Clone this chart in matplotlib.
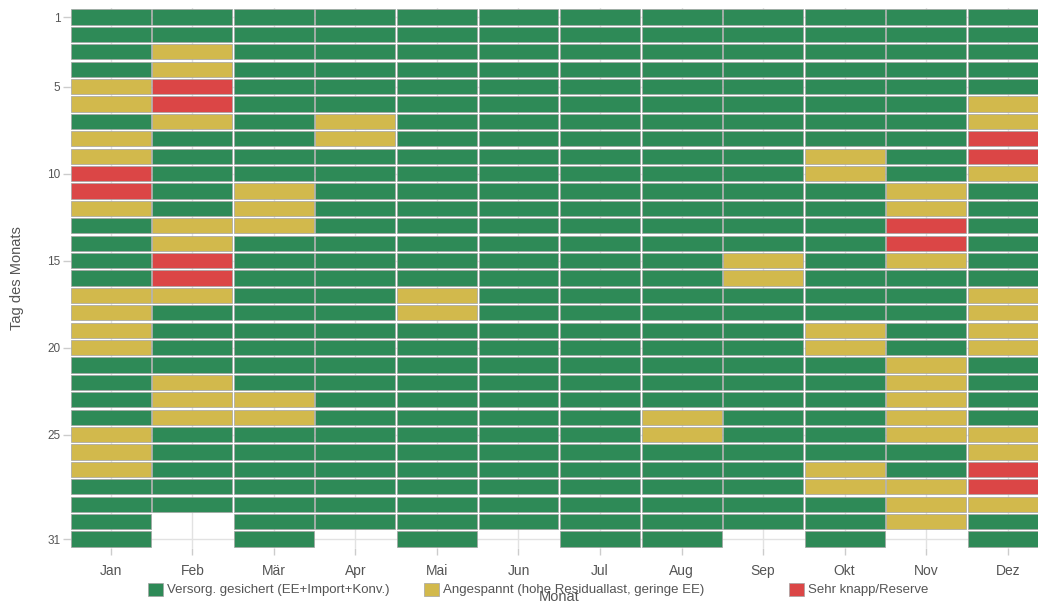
import matplotlib
matplotlib.use("Agg")
import matplotlib.pyplot as plt
from matplotlib.patches import Patch

plt.rcParams['font.family'] = ['Liberation Sans', 'DejaVu Sans']

# Monate und Tage je Monat (2024, Schaltjahr)
monate = ['Jan', 'Feb', 'Mär', 'Apr', 'Mai', 'Jun', 'Jul', 'Aug', 'Sep', 'Okt', 'Nov', 'Dez']
tage_pro_monat = [31, 29, 31, 30, 31, 30, 31, 31, 30, 31, 30, 31]

# Tage mit "Angespannt" (gelb) je Monat
gelb_tage = [
    [5, 6, 8, 9, 12, 17, 18, 19, 20, 25, 26, 27],
    [3, 4, 7, 13, 14, 17, 22, 23, 24],
    [11, 12, 13, 23, 24],
    [7, 8],
    [17, 18],
    [],
    [],
    [24, 25],
    [15, 16],
    [9, 10, 19, 20, 27, 28],
    [11, 12, 15, 21, 22, 23, 24, 25, 28, 29, 30],
    [6, 7, 10, 17, 18, 19, 20, 25, 26, 29],
]
# Tage mit "Sehr knapp/Reserve" (rot) je Monat
rot_tage = [
    [10, 11],
    [5, 6, 15, 16],
    [], [], [], [], [], [], [], [],
    [13, 14],
    [8, 9, 27, 28],
]

kategorien = ['Versorg. gesichert (EE+Import+Konv.)',
              'Angespannt (hohe Residuallast, geringe EE)',
              'Sehr knapp/Reserve']
farben = ['#2e8a57', '#d2b94c', '#db4646']

fig = plt.figure(figsize=(10.38, 6.03), dpi=100)
ax = fig.add_axes([70 / 1038, 55.3 / 603, 978.5 / 1038, 539.4 / 603])

# Zellen nach Kategorie sammeln
xs = [[], [], []]
ys = [[], [], []]
for i, n in enumerate(tage_pro_monat):
    for tag in range(1, n + 1):
        if tag in rot_tage[i]:
            k = 2
        elif tag in gelb_tage[i]:
            k = 1
        else:
            k = 0
        xs[k].append(i)
        ys[k].append(tag)

hoehe = 0.88
for k in range(3):
    ax.bar(xs[k], hoehe, bottom=[t - hoehe / 2 for t in ys[k]], width=0.98,
           color=farben[k], edgecolor='#a4a4a4', linewidth=0.5, zorder=2)

ax.set_xlim(-0.5, 11.5)
ax.set_ylim(31.5, 0.5)
ax.set_xticks(range(12))
ax.set_xticklabels(monate)
ax.set_yticks([1, 5, 10, 15, 20, 25, 31])

ax.grid(True, color='#e2e2e2', linewidth=1.0, zorder=0)
ax.set_axisbelow(True)
for s in ax.spines.values():
    s.set_visible(False)
ax.tick_params(axis='x', length=5, width=1, color='#cccccc', labelcolor='#555555',
               labelsize=10, pad=7)
ax.tick_params(axis='y', length=5, width=1, color='#cccccc', labelcolor='#555555',
               labelsize=8.5, pad=2)

ax.set_xlabel('Monat', fontsize=10.5, color='#555555')
ax.xaxis.set_label_coords(0.5, -0.078)
ax.set_ylabel('Tag des Monats', fontsize=10.5, color='#555555')
ax.yaxis.set_label_coords(-0.047, 0.5)

# Legende unten, drei Einträge
leg_x = [148, 424, 789]
for k in range(3):
    h = Patch(facecolor=farben[k], edgecolor='#a4a4a4', linewidth=0.5)
    fig.legend([h], [kategorien[k]], loc='center left',
               bbox_to_anchor=(leg_x[k] / 1038, 1 - 589.5 / 603),
               frameon=False, fontsize=9.5, labelcolor='#555555',
               handlelength=1.14, handleheight=1.14, handletextpad=0.3,
               borderpad=0, borderaxespad=0)

fig.savefig('out.png', dpi=100)
